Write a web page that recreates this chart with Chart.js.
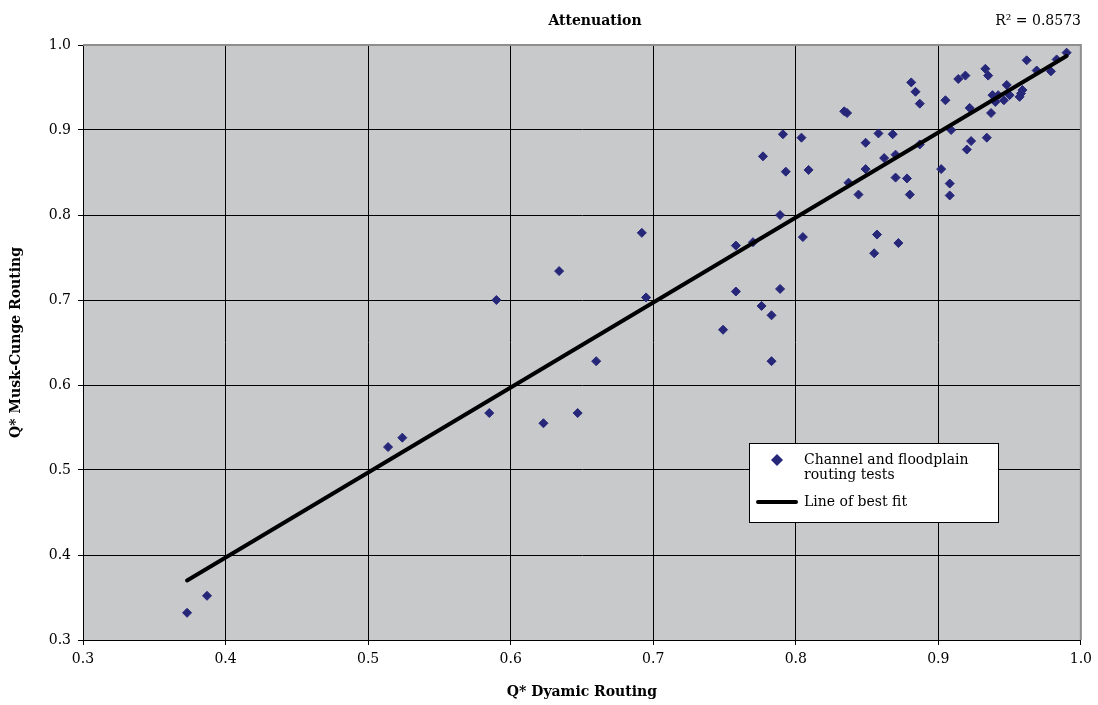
<!DOCTYPE html>
<html>
<head>
<meta charset="utf-8">
<title>Attenuation</title>
<script src="https://cdn.jsdelivr.net/npm/chart.js@4/dist/chart.umd.min.js"></script>
<style>
  body { margin: 0; background: #fff; }
  #wrap { width: 1098px; height: 705px; }
</style>
</head>
<body>
<div id="wrap"><canvas id="atten" width="1098" height="705"></canvas></div>
<script>
// data set
var testX = [
  0.373, 0.387, 0.514, 0.524, 0.590, 0.585, 0.623, 0.647, 0.634, 0.660, 0.692, 0.695,
  0.791, 0.804, 0.777, 0.793, 0.809, 0.789, 0.805, 0.758, 0.770, 0.758, 0.789, 0.776, 0.783, 0.749, 0.783,
  0.881, 0.884, 0.887, 0.834, 0.836, 0.858, 0.868, 0.849, 0.887, 0.862, 0.870, 0.849, 0.837, 0.844,
  0.870, 0.878, 0.880, 0.857, 0.872, 0.855,
  0.962, 0.990, 0.983, 0.969, 0.979, 0.933, 0.935, 0.914, 0.919, 0.905, 0.948, 0.938, 0.942, 0.940,
  0.946, 0.950, 0.959, 0.958, 0.957, 0.922, 0.937, 0.909, 0.934, 0.923, 0.920, 0.902, 0.908, 0.908
];
var testY = [
  0.332, 0.352, 0.527, 0.538, 0.700, 0.567, 0.555, 0.567, 0.734, 0.628, 0.779, 0.703,
  0.895, 0.891, 0.869, 0.851, 0.853, 0.800, 0.774, 0.764, 0.768, 0.710, 0.713, 0.693, 0.682, 0.665, 0.628,
  0.956, 0.945, 0.931, 0.922, 0.920, 0.896, 0.895, 0.885, 0.883, 0.867, 0.871, 0.854, 0.838, 0.824,
  0.844, 0.843, 0.824, 0.777, 0.767, 0.755,
  0.982, 0.991, 0.983, 0.970, 0.969, 0.972, 0.964, 0.960, 0.964, 0.935, 0.953, 0.941, 0.941, 0.933,
  0.935, 0.941, 0.947, 0.943, 0.939, 0.926, 0.920, 0.900, 0.891, 0.887, 0.877, 0.854, 0.837, 0.823
];
var fitX = [0.373, 0.990];
var fitY = [0.370, 0.987];
var axisTicks = [0.3, 0.4, 0.5, 0.6, 0.7, 0.8, 0.9, 1.0];

const chartTitle = 'Attenuation';
const r2Text = 'R\u00B2 = 0.8573';
const legendText = [['Channel and floodplain', 'routing tests'], ['Line of best fit']];

const navy = '#27277a';
const plotGray = '#c8c9cb';
const edgeGray = '#8e8e8e';
const serif = "'DejaVu Serif', 'Liberation Serif', serif";

var testPoints = testX.map((x, i) => ({ x: x, y: testY[i] }));
var fitPoints = fitX.map((x, i) => ({ x: x, y: fitY[i] }));

// grey plot area, frame, title and legend box
const decor = {
  id: 'decor',
  beforeDraw(chart) {
    const { ctx, chartArea: a } = chart;
    ctx.save();
    ctx.fillStyle = plotGray;
    ctx.fillRect(a.left, a.top, a.right - a.left, a.bottom - a.top);
    ctx.restore();
  },
  afterDraw(chart) {
    const { ctx, chartArea: a } = chart;
    ctx.save();
    // top and right frame
    ctx.strokeStyle = edgeGray;
    ctx.lineWidth = 2;
    ctx.beginPath();
    ctx.moveTo(a.left, a.top);
    ctx.lineTo(a.right, a.top);
    ctx.lineTo(a.right, a.bottom);
    ctx.stroke();

    ctx.fillStyle = '#000';
    ctx.textBaseline = 'middle';
    ctx.font = "bold 14px " + serif;
    ctx.textAlign = 'center';
    ctx.fillText(chartTitle, 595, 21);
    ctx.font = "14px " + serif;
    ctx.textAlign = 'right';
    ctx.fillText(r2Text, 1081, 21);

    // legend
    const lx = 749, ly = 443, lw = 249, lh = 79;
    ctx.fillStyle = '#fff';
    ctx.fillRect(lx, ly, lw, lh);
    ctx.strokeStyle = '#000';
    ctx.lineWidth = 1;
    ctx.strokeRect(lx + 0.5, ly + 0.5, lw, lh);

    ctx.fillStyle = navy;
    ctx.beginPath();
    ctx.moveTo(777, 454); ctx.lineTo(783, 460); ctx.lineTo(777, 466); ctx.lineTo(771, 460);
    ctx.closePath();
    ctx.fill();

    ctx.strokeStyle = '#000';
    ctx.lineWidth = 4;
    ctx.lineCap = 'round';
    ctx.beginPath();
    ctx.moveTo(758, 502); ctx.lineTo(796, 502);
    ctx.stroke();

    ctx.fillStyle = '#000';
    ctx.font = "14px " + serif;
    ctx.textAlign = 'left';
    ctx.fillText(legendText[0][0], 804, 460);
    ctx.fillText(legendText[0][1], 804, 475);
    ctx.fillText(legendText[1][0], 804, 502);
    ctx.restore();
  }
};

function gridColor(c) {
  return c.tick && c.tick.value > 0.999 ? 'rgba(0,0,0,0)' : '#000';
}

new Chart('atten', {
  type: 'scatter',
  data: {
    datasets: [{
      type: 'line',
      label: 'Line of best fit',
      data: fitPoints,
      borderColor: '#000',
      borderWidth: 4,
      borderCapStyle: 'round',
      pointRadius: 0,
      fill: false,
      order: 0
    }, {
      label: 'Channel and floodplain routing tests',
      data: testPoints,
      pointStyle: 'rectRot',
      pointRadius: 4.5,
      pointBorderWidth: 1,
      backgroundColor: navy,
      borderColor: navy,
      order: 1
    }]
  },
  options: {
    responsive: false,
    animation: false,
    layout: { padding: { left: 0, top: 45, right: 14, bottom: 0 } },
    plugins: {
      legend: { display: false },
      tooltip: { enabled: false }
    },
    scales: {
      x: {
        type: 'linear',
        min: 0.3,
        max: 1.0,
        afterBuildTicks: s => { s.ticks = axisTicks.map(v => ({ value: v })); },
        afterFit: s => { s.height = 65; },
        grid: { color: gridColor, lineWidth: 1, tickLength: 5, tickColor: '#000' },
        border: { color: '#000', width: 1 },
        ticks: {
          padding: 6,
          color: '#000',
          font: { family: serif, size: 14 },
          callback: v => Number(v).toFixed(1)
        },
        title: {
          display: true,
          text: 'Q* Dyamic Routing',
          color: '#000',
          font: { family: serif, size: 14, weight: 'bold' },
          padding: { top: 0, bottom: 4 }
        }
      },
      y: {
        type: 'linear',
        min: 0.3,
        max: 1.0,
        afterBuildTicks: s => { s.ticks = axisTicks.map(v => ({ value: v })); },
        afterFit: s => { s.width = 83; },
        grid: { color: gridColor, lineWidth: 1, tickLength: 5, tickColor: '#000' },
        border: { color: '#000', width: 1 },
        ticks: {
          padding: 7,
          color: '#000',
          font: { family: serif, size: 14 },
          callback: v => Number(v).toFixed(1)
        },
        title: {
          display: true,
          text: 'Q* Musk-Cunge Routing',
          color: '#000',
          font: { family: serif, size: 14, weight: 'bold' },
          padding: { top: 8, bottom: 0 }
        }
      }
    }
  },
  plugins: [decor]
});
</script>
</body>
</html>
